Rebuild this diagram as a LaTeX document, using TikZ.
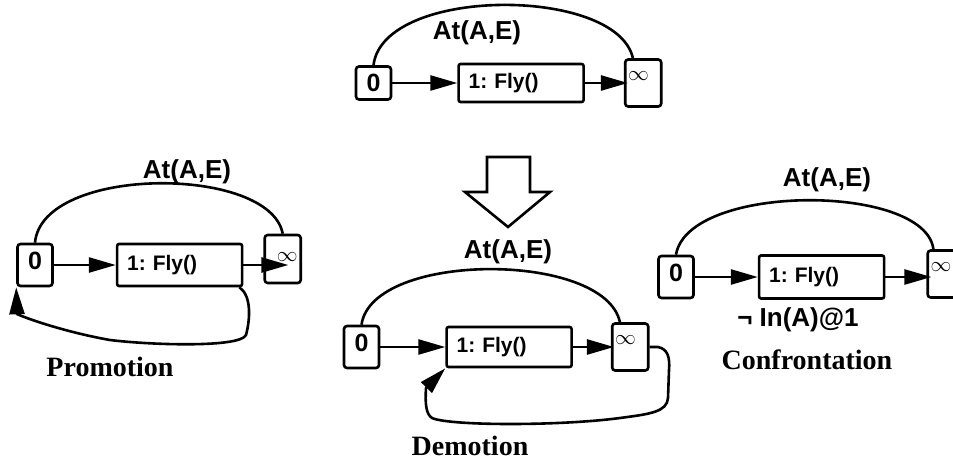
\documentclass[tikz,border=0pt]{standalone}
\usepackage{fontspec}
\setmainfont{Liberation Serif}
\setsansfont{Liberation Sans}
\usetikzlibrary{arrows.meta,positioning}
\tikzset{
    initbox/.style={
        draw,
        rounded corners=3pt,
        line width=2.6pt,
        minimum width=35pt,
        inner sep=0pt,
        text height=25pt,
        text depth=17pt,
        font=\sffamily\bfseries\fontsize{25}{25}\selectfont
    },
    actbox/.style={
        draw,
        rounded corners=2pt,
        line width=2.6pt,
        minimum height=40pt,
        text width=105pt,
        inner xsep=10pt,
        inner ysep=0pt,
        align=left,
        font=\sffamily\bfseries\fontsize{21}{21}\selectfont\frenchspacing
    },
    goalbox/.style={
        draw,
        rounded corners=3pt,
        line width=2.6pt,
        minimum width=36pt,
        text width=30pt,
        inner xsep=3pt,
        inner ysep=0pt,
        align=left,
        text height=21pt,
        text depth=26pt,
        font=\fontsize{22}{22}\selectfont
    },
    flow/.style={-{Triangle[length=27pt,width=15pt]}, line width=2.6pt, line join=round},
    link/.style={line width=2.6pt, line join=round},
    cond/.style={font=\sffamily\bfseries\fontsize{26}{26}\selectfont, inner sep=1pt},
    caption/.style={font=\bfseries\fontsize{28}{28}\selectfont, inner sep=0pt}
}

\begin{document}
\begin{tikzpicture}[x=1pt, y=-1pt]
        \useasboundingbox (0,0) rectangle (953,460);

        \node[initbox, text depth=8pt] (t0) at (373.5,83) {0};
        \node[actbox, minimum height=38pt, right=65pt of t0] (t1) {1: Fly()};
        \node[goalbox, right=39pt of t1] (tinf) {$\infty$};
        \node[cond] (tcond) at (477,33) {At(A,E)};
        \draw[flow] (t0) -- (t1);
        \draw[flow, shorten >=-4pt] (t1) -- (tinf.west |- t1.east);
        \draw[link] (t0.north) .. controls (383,-14) and (617,-14) .. ([xshift=9pt]tinf.north west);

        \draw[line width=2.6pt, fill=white] (487,157) -- (530,157) -- (530,192) -- (550,192)
            -- (508,227) -- (465,192) -- (487,192) -- cycle;

        \node[initbox] (p0) at (35,265) {0};
        \node[actbox, minimum height=42pt, right=62pt of p0] (p1) {1: Fly()};
        \node[goalbox, align=right, text height=26pt, text depth=22pt, right=20pt of p1, yshift=6pt] (pinf) {$\infty$};
        \node[cond] (pcond) at (187,172) {At(A,E)};
        \node[caption] (pname) at (110,367) {Promotion};
        \draw[flow] (p0) -- (p1);
        \draw[flow, shorten >=-25pt] (p1) -- (pinf.west |- p1.east);
        \draw[link] (p0.north) .. controls (42,165) and (270,165) .. (pinf.north);
        \draw[flow] ([xshift=-4pt]p1.south east) .. controls (252,296) and (250,320) .. (246,335)
            .. controls (240,348) and (150,345) .. (110,340)
            .. controls (70,333) and (30,320) .. (17,314) -- (p0.south west);

        \node[initbox] (d0) at (361.5,347) {0};
        \node[actbox, right=65pt of d0] (d1) {1: Fly()};
        \node[goalbox, right=38pt of d1] (dinf) {$\infty$};
        \node[cond] (dcond) at (508,252) {At(A,E)};
        \node[caption] (dname) at (470,446) {Demotion};
        \draw[flow] (d0) -- (d1);
        \draw[flow, shorten >=-3pt] (d1) -- (dinf.west |- d1.east);
        \draw[link] (d0.north) .. controls (372,251) and (605,251) .. ([xshift=9pt]dinf.north west);
        \draw[flow] (dinf.east) -- (658,347) .. controls (668,349) and (670,358) .. (669,370) -- (668,398)
            .. controls (667,412) and (650,414) .. (620,418)
            .. controls (560,426) and (450,426) .. (432,418)
            .. controls (426,414) and (425,404) .. (426,388) -- (d1.south west);

        \node[initbox] (c0) at (676,277) {0};
        \node[actbox, minimum height=43pt, right=63pt of c0] (c1) {1: Fly()};
        \node[goalbox, right=41pt of c1, yshift=3pt] (cinf) {$\infty$};
        \node[cond] (ccond) at (827,180) {At(A,E)};
        \node[cond] (cthreat) at (798,320) {¬ In(A)@1};
        \node[caption] (cname) at (807,360) {Confrontation};
        \draw[flow] (c0) -- (c1);
        \draw[flow, shorten >=-5pt] (c1) -- (cinf.west |- c1.east);
        \draw[link] (c0.north) .. controls (688,183) and (925,183) .. ([xshift=7pt]cinf.north west);
    \end{tikzpicture}
\end{document}
